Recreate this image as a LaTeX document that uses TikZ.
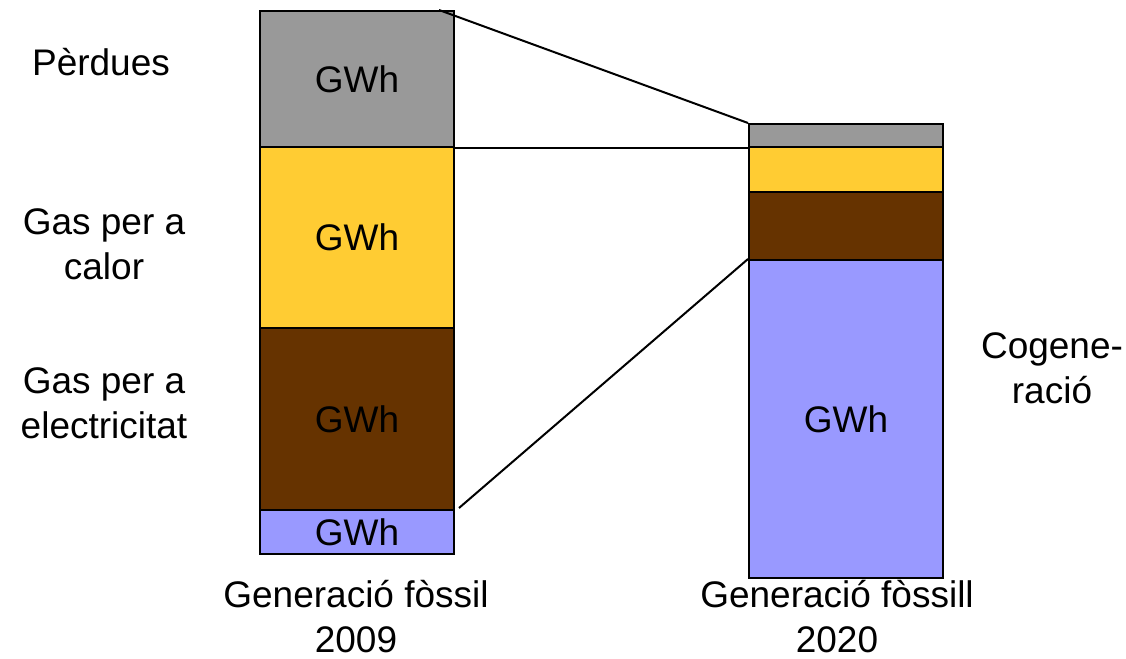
\documentclass[tikz,border=0pt]{standalone}
\usepackage{fontspec}
\setmainfont{Liberation Sans}
\usetikzlibrary{calc}
\definecolor{cgray}{HTML}{999999}
\definecolor{cyellow}{HTML}{FFCC33}
\definecolor{cbrown}{HTML}{663300}
\definecolor{cblue}{HTML}{9999FF}
\begin{document}
\begin{tikzpicture}[x=1pt,y=-1pt,
  seg/.style={draw=black,line width=2pt,rectangle,inner sep=0pt,anchor=north west,minimum width=194pt,font=\fontsize{37}{44}\selectfont},
  lbl/.style={align=center,font=\fontsize{37}{45}\selectfont,inner sep=0pt},
  link/.style={draw=black,line width=2pt}]
\useasboundingbox (0,0) rectangle (1126,658);
% left bar (2009)
\node[seg,fill=cgray,minimum height=136pt] (lg) at (259,10) {GWh};
\node[seg,fill=cyellow,minimum height=181pt] (ly) at (259,146) {GWh};
\node[seg,fill=cbrown,minimum height=182pt] (lbr) at (259,327) {GWh};
\node[seg,fill=cblue,minimum height=44pt] (lb) at (259,509) {GWh};
% right bar (2020)
\node[seg,fill=cgray,minimum height=23pt] (rg) at (748,123) {};
\node[seg,fill=cyellow,minimum height=45pt] (ry) at (748,146) {};
\node[seg,fill=cbrown,minimum height=68pt] (rbr) at (748,191) {};
\node[seg,fill=cblue,minimum height=318pt] (rb) at (748,259) {GWh};
% connectors
\draw[link] ($(lg.north east)+(-16,0)$) -- (rg.north west);
\draw[link] (lg.south east) -- (rg.south west);
\draw[link] ($(lb.north east)+(4,-1)$) -- (rb.north west);
% labels
\node[lbl] (t1) at (101,62) {Pèrdues};
\node[lbl] (t2) at (104,244) {Gas per a\\calor};
\node[lbl] (t3) at (104,403) {Gas per a\\electricitat};
\node[lbl] (t4) at (1052,368) {Cogene-\\ració};
\node[lbl] (t5) at (356,617) {Generació fòssil\\2009};
\node[lbl] (t6) at (837,617) {Generació fòssill\\2020};
\end{tikzpicture}
\end{document}
